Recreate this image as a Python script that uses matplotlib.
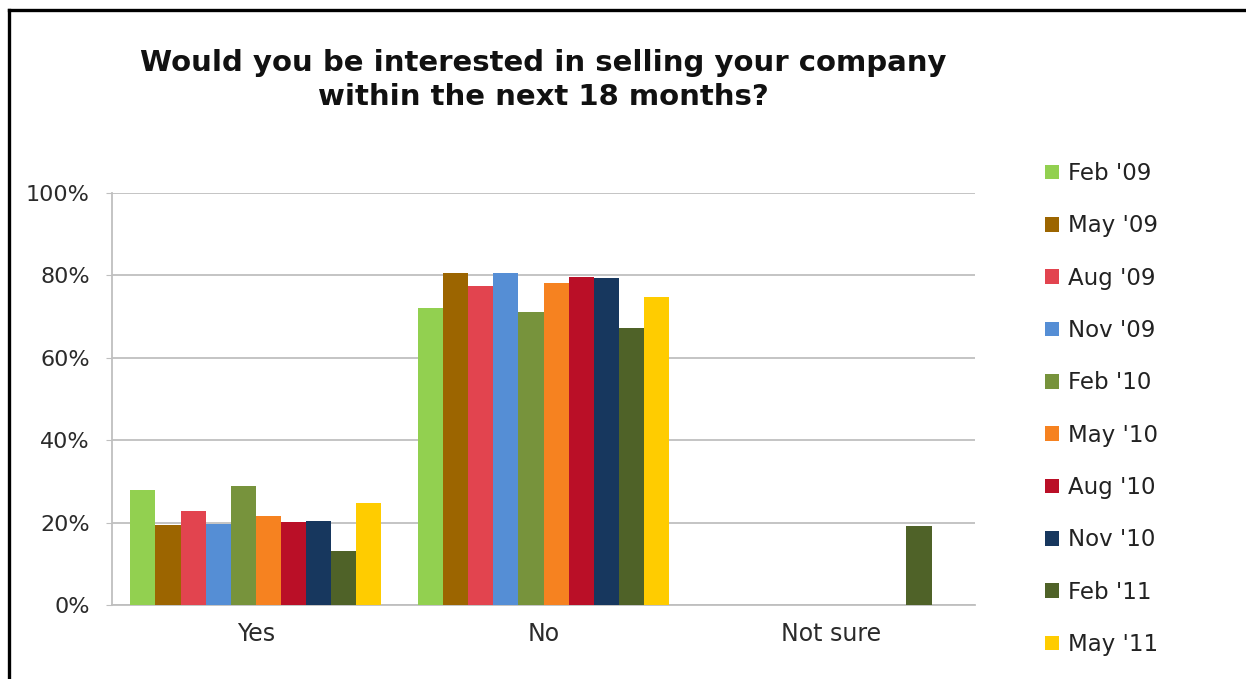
import matplotlib
matplotlib.use("Agg")
import matplotlib.pyplot as plt
import numpy as np
from matplotlib.patches import Patch
from matplotlib.lines import Line2D

categories = ["Yes", "No", "Not sure"]
surveys = ["Feb '09", "May '09", "Aug '09", "Nov '09", "Feb '10",
           "May '10", "Aug '10", "Nov '10", "Feb '11", "May '11"]
yes_pct = [28, 19.3, 22.8, 19.7, 28.9, 21.6, 20.2, 20.4, 13.2, 24.7]
no_pct = [72, 80.5, 77.3, 80.5, 71.2, 78.1, 79.7, 79.3, 67.2, 74.8]
notsure_pct = [0, 0, 0, 0, 0, 0, 0, 0, 19.2, 0]
colors = ["#92D050", "#9C6500", "#E2444F", "#558ED5", "#77933C",
          "#F68220", "#BA0F27", "#17375E", "#4F6228", "#FFCC00"]

plt.rcParams['font.family'] = ['DejaVu Sans']

fig = plt.figure(figsize=(12.46, 6.79), dpi=100)
ax = fig.add_axes([0.0899, 0.109, 0.6926, 0.6068])

values = np.array([yes_pct, no_pct, notsure_pct])  # categories x surveys
x = np.arange(len(categories))
n = len(surveys)
group_w = 0.8725
bw = group_w / n
for i in range(n):
    offs = (i - (n - 1) / 2) * bw
    ax.bar(x + offs, values[:, i], width=bw, color=colors[i], label=surveys[i], zorder=3)

ax.set_xlim(-0.5, 2.5)
ax.set_ylim(0, 100)
ax.set_yticks([0, 20, 40, 60, 80, 100])
ax.set_yticklabels(["0%", "20%", "40%", "60%", "80%", "100%"])
ax.set_xticks(x)
ax.set_xticklabels(categories)
ax.grid(axis='y', color='#BFBFBF', linewidth=1.3, zorder=0)
for s in ['top', 'right']:
    ax.spines[s].set_visible(False)
for s in ['left', 'bottom']:
    ax.spines[s].set_color('#BFBFBF')
    ax.spines[s].set_linewidth(1.3)
ax.tick_params(axis='y', length=4, color='#BFBFBF', pad=12, labelsize=16, labelcolor='#2b2b2b')
ax.tick_params(axis='x', length=0, pad=12, labelsize=17, labelcolor='#2b2b2b')

fig.text(0.436, 1 - 80 / 679, "Would you be interested in selling your company\nwithin the next 18 months?",
         ha='center', va='center', fontsize=21, fontweight='bold', linespacing=1.3, color='#111111')

handles = [Patch(facecolor=c, edgecolor='none') for c in colors]
fig.legend(handles, surveys, loc='upper left', bbox_to_anchor=(1045 / 1246, 1 - 162 / 679),
           frameon=False, fontsize=16.5, handlelength=0.6, handleheight=0.6, handletextpad=0.4,
           labelspacing=1.28, borderpad=0, borderaxespad=0, labelcolor='#222222')

# outer frame along the top and left edges
fig.add_artist(Line2D([9 / 1246, 1], [1 - 10 / 679, 1 - 10 / 679], transform=fig.transFigure,
                      color='black', linewidth=2.4))
fig.add_artist(Line2D([9 / 1246, 9 / 1246], [0, 1 - 10 / 679], transform=fig.transFigure,
                      color='black', linewidth=2.4))

fig.savefig("out.png", dpi=100)
